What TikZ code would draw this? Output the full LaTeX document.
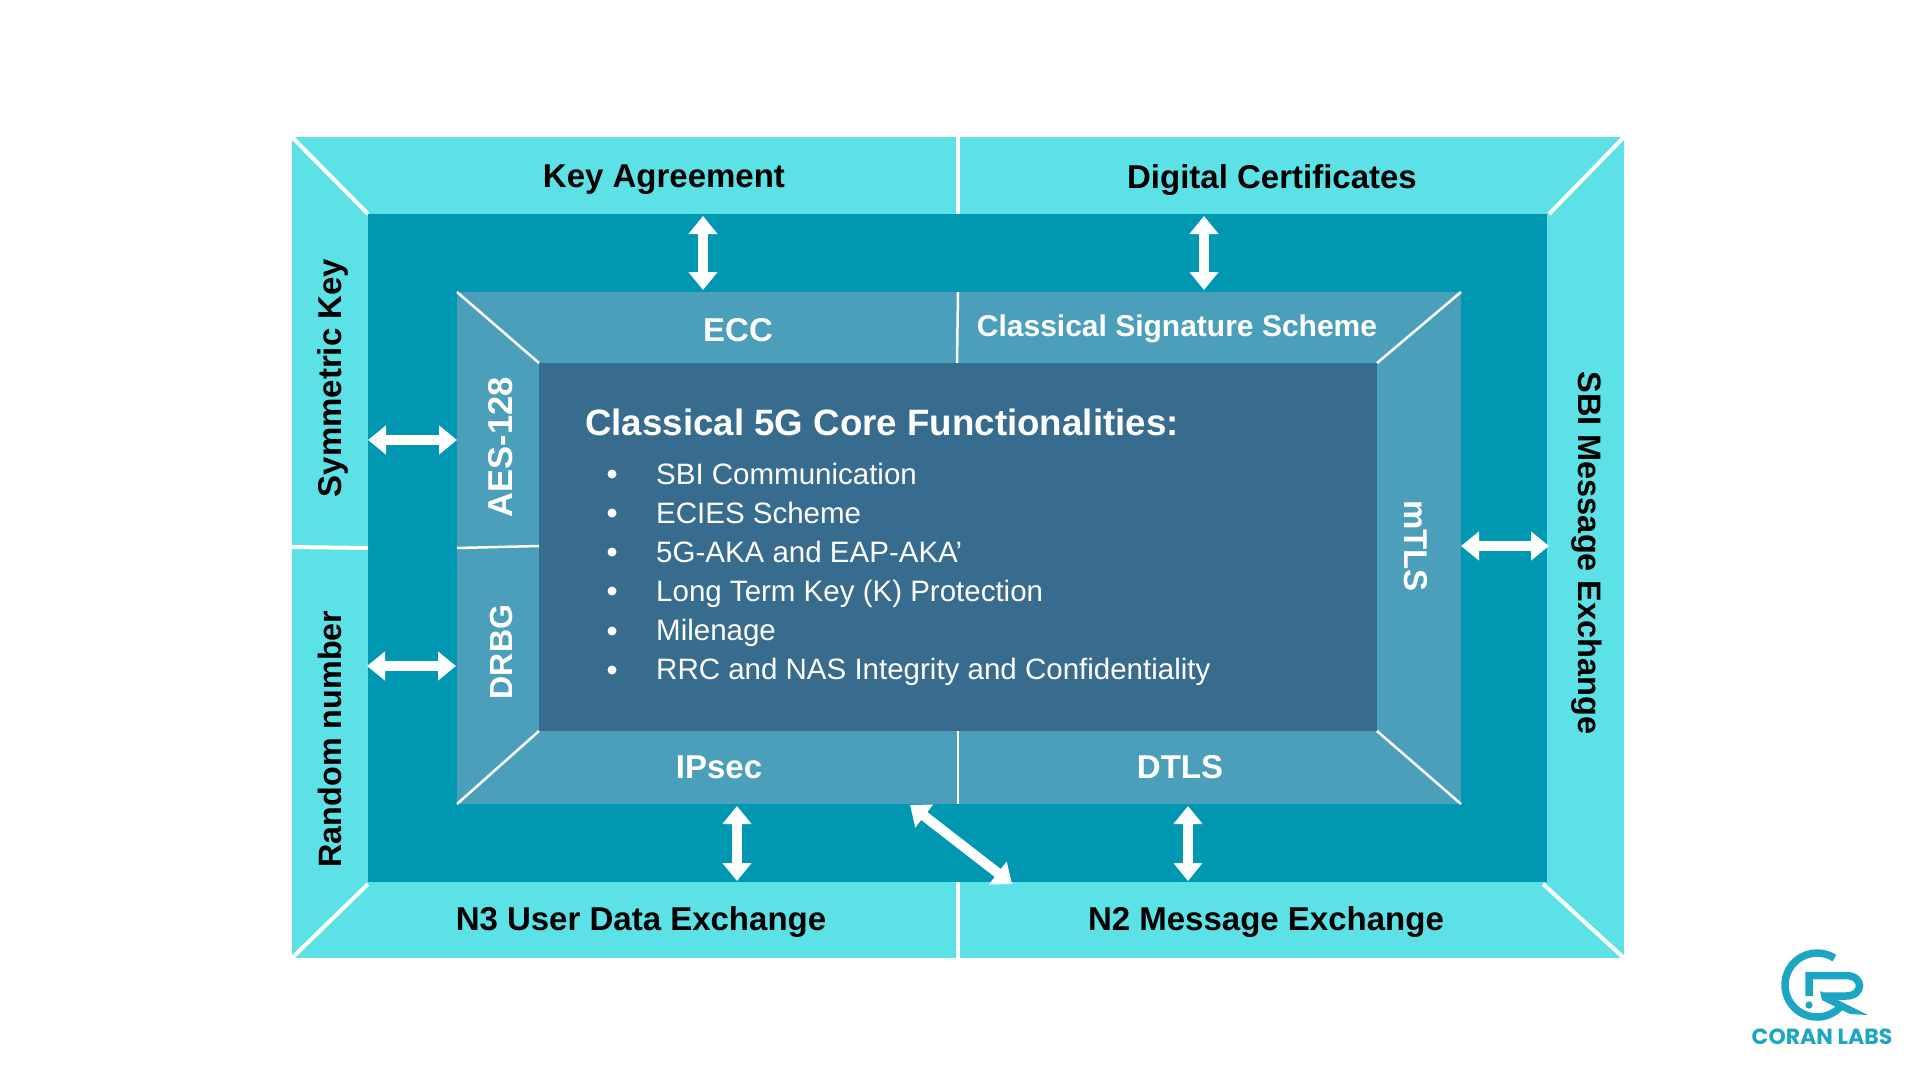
\documentclass[tikz,border=0pt]{standalone}
\usepackage{fontspec}
\setmainfont{Liberation Sans}
\newfontfamily\logofont{Poppins}
\usetikzlibrary{arrows.meta}
\definecolor{outerc}{HTML}{5CE1E6}
\definecolor{darkc}{HTML}{0097B2}
\definecolor{bandc}{HTML}{4B9FBA}
\definecolor{corec}{HTML}{386C8E}
\definecolor{logoc}{HTML}{1CA6C4}
\tikzset{
 x=1pt,y=-1pt,
 sep/.style={draw=white,line width=4pt},
 thinsep/.style={draw=white,line width=2.5pt},
 dbl/.style={draw=white,line width=10pt,{Triangle[width=28pt,length=18pt]}-{Triangle[width=28pt,length=18pt]},shorten >=0pt,shorten <=0pt},
 lblk/.style={text=black,font=\fontsize{33}{33}\selectfont\bfseries,inner sep=0pt},
 lwht/.style={text=white,font=\fontsize{33}{33}\selectfont\bfseries,inner sep=0pt},
 item/.style={text=white,font=\fontsize{29.5}{29.5}\selectfont,anchor=base west,inner sep=0pt},
 bul/.style={circle,fill=white,inner sep=0pt,minimum size=9pt},
}
\begin{document}
\begin{tikzpicture}
\useasboundingbox (0,0) rectangle (1920,1080);
\fill[white] (0,0) rectangle (1920,1080);
\fill[outerc] (292,137) rectangle (1624,958);
\fill[darkc] (368,214) rectangle (1547,882);
\fill[bandc] (457,292) rectangle (1461,804);
\fill[corec] (539,363) rectangle (1377,731);
% separators
\draw[sep] (292,137) -- (368,214);
\draw[sep] (1624,137) -- (1549,214);
\draw[sep] (292,958) -- (368,884);
\draw[sep] (1624,958) -- (1543,884);
\draw[sep] (958,137) -- (958,214);
\draw[sep] (958,882) -- (958,958);
\draw[sep] (292,547) -- (368,548);
\draw[thinsep] (457,292) -- (539,363);
\draw[thinsep] (1461,292) -- (1377,363);
\draw[thinsep] (457,804) -- (539,731);
\draw[thinsep] (1461,804) -- (1377,731);
\draw[thinsep] (958,292) -- (957,363);
\draw[thinsep] (958,731) -- (958,804);
\draw[thinsep] (457,548) -- (539,546);
% labels
\node[lblk] (keyag) at (664,180) {Key Agreement};
\node[lblk] (digi) at (1272,180) {Digital Certificates};
\node[lblk] (n3) at (641,922) {N3 User Data Exchange};
\node[lblk] (n2) at (1266,922) {N2 Message Exchange};
\node[lblk,rotate=90] (sym) at (333,378) {Symmetric Key};
\node[lblk,rotate=90,font=\fontsize{32.3}{32.3}\selectfont\bfseries] (rnd) at (330,739) {Random number};
\node[lblk,rotate=-90,font=\fontsize{32.5}{32.5}\selectfont\bfseries] (sbi) at (1587,553) {SBI Message Exchange};
\node[lwht] (ecc) at (738,330) {ECC};
\node[lwht,font=\fontsize{30}{30}\selectfont\bfseries] (css) at (1177,329) {Classical Signature Scheme};
\node[lwht] (ipsec) at (719,767) {IPsec};
\node[lwht] (dtls) at (1180,767) {DTLS};
\node[lwht,rotate=90,font=\fontsize{34.5}{34.5}\selectfont\bfseries] (aes) at (501,447) {AES-128};
\node[lwht,rotate=90,font=\fontsize{32}{32}\selectfont\bfseries] (drbg) at (501,652) {DRBG};
\node[lwht,rotate=-90] (mtls) at (1416,546) {mTLS};
\node[text=white,font=\fontsize{36.7}{36.7}\selectfont\bfseries,anchor=west,inner sep=0pt] (title) at (585,422) {Classical 5G Core Functionalities:};
\node[item] (i1) at (656,484) {SBI Communication};
\node[item] (i2) at (656,523) {ECIES Scheme};
\node[item] (i3) at (656,562) {5G-AKA and EAP-AKA’};
\node[item] (i4) at (656,601) {Long Term Key (K) Protection};
\node[item] (i5) at (656,640) {Milenage};
\node[item] (i6) at (656,679) {RRC and NAS Integrity and Confidentiality};
\node[bul] (b1) at (612,474) {};
\node[bul] (b2) at (612,513) {};
\node[bul] (b3) at (612,552) {};
\node[bul] (b4) at (612,591) {};
\node[bul] (b5) at (612,631) {};
\node[bul] (b6) at (612,670) {};
% arrows
\coordinate (a1a) at (703,216); \coordinate (a1b) at (703,290);
\coordinate (a2a) at (1204,216); \coordinate (a2b) at (1204,290);
\coordinate (a3a) at (368,440); \coordinate (a3b) at (457,440);
\coordinate (a4a) at (367,666); \coordinate (a4b) at (456,666);
\coordinate (a5a) at (1461,546); \coordinate (a5b) at (1549,546);
\coordinate (a6a) at (737,806); \coordinate (a6b) at (737,881);
\coordinate (a7a) at (1188,806); \coordinate (a7b) at (1188,881);
\coordinate (a8a) at (910,805); \coordinate (a8b) at (1012,884);
\foreach \p in {1,...,8} \draw[dbl] (a\p a) -- (a\p b);
% logo
\draw[logoc,line width=7.5pt] (1817,985) ++(39:32) arc[start angle=39,end angle=303,radius=32];
\draw[logoc,line width=7.5pt,line join=miter] (1809,996) -- (1809,975.5) -- (1846,975.5) .. controls (1864,975.5) and (1864,996) .. (1846,996) -- (1822,996);
\fill[logoc] (1820,991) -- (1868,1015) -- (1850,1014) -- (1822,1000) -- cycle;
\fill[logoc] (1809,1005) circle (3.6);
\node[text=logoc,font=\logofont\fontsize{22}{22}\selectfont\bfseries,inner sep=0pt] (brand) at (1822,1037) {CORAN LABS};
\end{tikzpicture}
\end{document}
